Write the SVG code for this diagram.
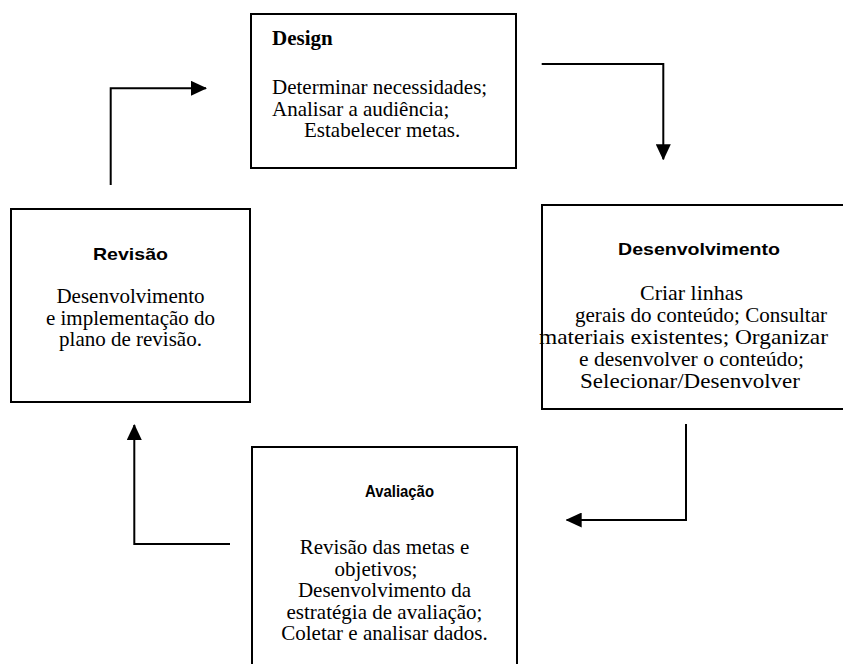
<svg xmlns="http://www.w3.org/2000/svg" width="843" height="664" viewBox="0 0 843 664">
<style>
.box{fill:#fff;stroke:#000;stroke-width:2}
.body{font-family:"Liberation Serif","Times New Roman",serif;font-size:21px;fill:#000}
.big{font-size:22px}
.mid{text-anchor:middle}
.ttl{font-family:"Liberation Sans",Arial,sans-serif;font-size:17px;font-weight:bold;fill:#000}
.dtl{font-family:"Liberation Serif","Times New Roman",serif;font-size:21px;font-weight:bold;fill:#000}
.conn{fill:none;stroke:#000;stroke-width:2;marker-end:url(#ah)}
</style>
<defs>
<marker id="ah" markerUnits="userSpaceOnUse" markerWidth="16" markerHeight="15" refX="15" refY="7.5" orient="auto">
<path d="M0,0 L16,7.5 L0,15 z" fill="#000"/>
</marker>
</defs>
<rect width="843" height="664" fill="#fff"/>
<g id="design">
<rect class="box" x="251" y="14" width="265" height="154"/>
<text class="dtl" x="272" y="45">Design</text>
<text class="body" x="272" y="94">Determinar necessidades;</text>
<text class="body" x="272" y="115.5">Analisar a audiência;</text>
<text class="body" x="304" y="137">Estabelecer metas.</text>
</g>
<g id="desenvolvimento">
<rect class="box" x="542" y="205" width="310" height="204"/>
<text class="ttl" x="618" y="255" textLength="162" lengthAdjust="spacingAndGlyphs">Desenvolvimento</text>
<text class="body big" x="640" y="300" textLength="103" lengthAdjust="spacingAndGlyphs">Criar linhas</text>
<text class="body big" x="575" y="322" textLength="252" lengthAdjust="spacingAndGlyphs">gerais do conteúdo; Consultar</text>
<text class="body big" x="539" y="344" textLength="289" lengthAdjust="spacingAndGlyphs">materiais existentes; Organizar</text>
<text class="body big" x="579" y="366" textLength="225" lengthAdjust="spacingAndGlyphs">e desenvolver o conteúdo;</text>
<text class="body big" x="580" y="388" textLength="220" lengthAdjust="spacingAndGlyphs">Selecionar/Desenvolver</text>
</g>
<g id="revisao">
<rect class="box" x="11" y="209" width="239" height="193"/>
<text class="ttl" x="93" y="260" textLength="75" lengthAdjust="spacingAndGlyphs">Revisão</text>
<text class="body mid" x="130.5" y="303">Desenvolvimento</text>
<text class="body mid" x="130.5" y="324.5">e implementação do</text>
<text class="body mid" x="130.5" y="346">plano de revisão.</text>
</g>
<g id="avaliacao">
<rect class="box" x="252" y="447" width="265" height="230"/>
<text class="ttl" x="365" y="497" textLength="69" lengthAdjust="spacingAndGlyphs">Avaliação</text>
<text class="body mid" x="384.5" y="554">Revisão das metas e</text>
<text class="body mid" x="376" y="575.5">objetivos;</text>
<text class="body mid" x="384.5" y="597">Desenvolvimento da</text>
<text class="body mid" x="384.5" y="618.5">estratégia de avaliação;</text>
<text class="body mid" x="384.5" y="640">Coletar e analisar dados.</text>
</g>
<g id="connectors">
<polyline class="conn" points="110.7,185 110.7,88.3 206,88.3"/>
<polyline class="conn" points="541.7,64 663.3,64 663.3,159.3"/>
<polyline class="conn" points="686,424 686,520 566.7,520"/>
<polyline class="conn" points="230,544 134.3,544 134.3,425"/>
</g>
</svg>
